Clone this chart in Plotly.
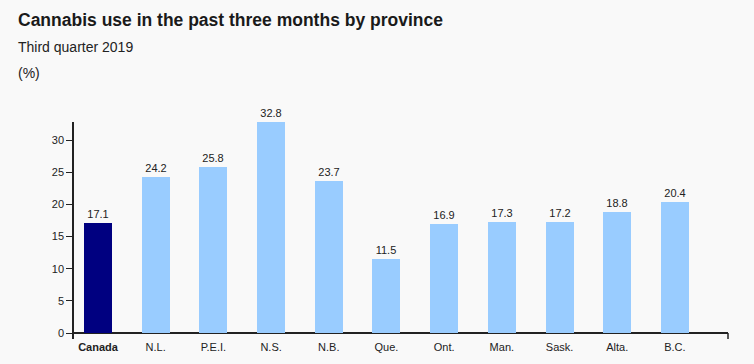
import plotly.graph_objects as go

categories = ["Canada", "N.L.", "P.E.I.", "N.S.", "N.B.", "Que.", "Ont.", "Man.", "Sask.", "Alta.", "B.C."]
values = [17.1, 24.2, 25.8, 32.8, 23.7, 11.5, 16.9, 17.3, 17.2, 18.8, 20.4]
tick_labels = ["<b>Canada</b>", "N.L.", "P.E.I.", "N.S.", "N.B.", "Que.", "Ont.", "Man.", "Sask.", "Alta.", "B.C."]
colors = ["#000080"] + ["#99ccff"] * 10

FONT = "Liberation Sans, Arial, Helvetica, sans-serif"
BG = "#f9f9f9"

x_idx = list(range(len(categories)))

fig = go.Figure()
fig.add_trace(go.Bar(
    x=x_idx, y=values,
    marker=dict(color=colors, line=dict(width=0)),
    width=0.485,
    text=[f"{v:.1f}" for v in values],
    textposition="outside",
    textfont=dict(size=11, color="#222222", family=FONT),
    cliponaxis=False,
))

fig.update_layout(
    width=754, height=364,
    paper_bgcolor=BG, plot_bgcolor=BG,
    margin=dict(l=74, r=26, t=122, b=25, autoexpand=False),
    showlegend=False,
    font=dict(family=FONT, color="#222222", size=11),
    xaxis=dict(
        range=[-0.416, 10.92],
        tickmode="array", tickvals=x_idx, ticktext=tick_labels,
        showgrid=False, showline=False, zeroline=False,
        ticks="", tickfont=dict(size=11, color="#222222"),
        fixedrange=True, automargin=False,
    ),
    yaxis=dict(
        range=[-0.93, 32.8],
        tickmode="array", tickvals=[0, 5, 10, 15, 20, 25, 30],
        showgrid=False, showline=True, linecolor="#222222", linewidth=1.5,
        zeroline=True, zerolinecolor="#222222", zerolinewidth=1.5,
        ticks="outside", ticklen=6, tickcolor="#222222",
        tickfont=dict(size=11, color="#222222"),
        fixedrange=True, automargin=False,
    ),
    bargap=0,
)

fig.add_annotation(text="<b>Cannabis use in the past three months by province</b>",
                   xref="paper", yref="paper", x=0, y=1, xanchor="left", yanchor="middle",
                   xshift=-58, yshift=102, showarrow=False,
                   font=dict(size=17.5, color="#1a1a1a", family=FONT))
fig.add_annotation(text="Third quarter 2019",
                   xref="paper", yref="paper", x=0, y=1, xanchor="left", yanchor="middle",
                   xshift=-58, yshift=75, showarrow=False,
                   font=dict(size=14, color="#222222", family=FONT))
fig.add_annotation(text="(%)",
                   xref="paper", yref="paper", x=0, y=1, xanchor="left", yanchor="middle",
                   xshift=-58, yshift=49, showarrow=False,
                   font=dict(size=14, color="#222222", family=FONT))

# right-end tick of the category axis
fig.add_shape(type="line", xref="paper", yref="y", x0=1, x1=1, y0=0, y1=-0.93,
              line=dict(color="#222222", width=1.5))

fig.write_html(
    "out.html",
    config={"displayModeBar": False},
    post_script="document.body.style.margin='0';document.body.style.background='" + BG + "';",
)
